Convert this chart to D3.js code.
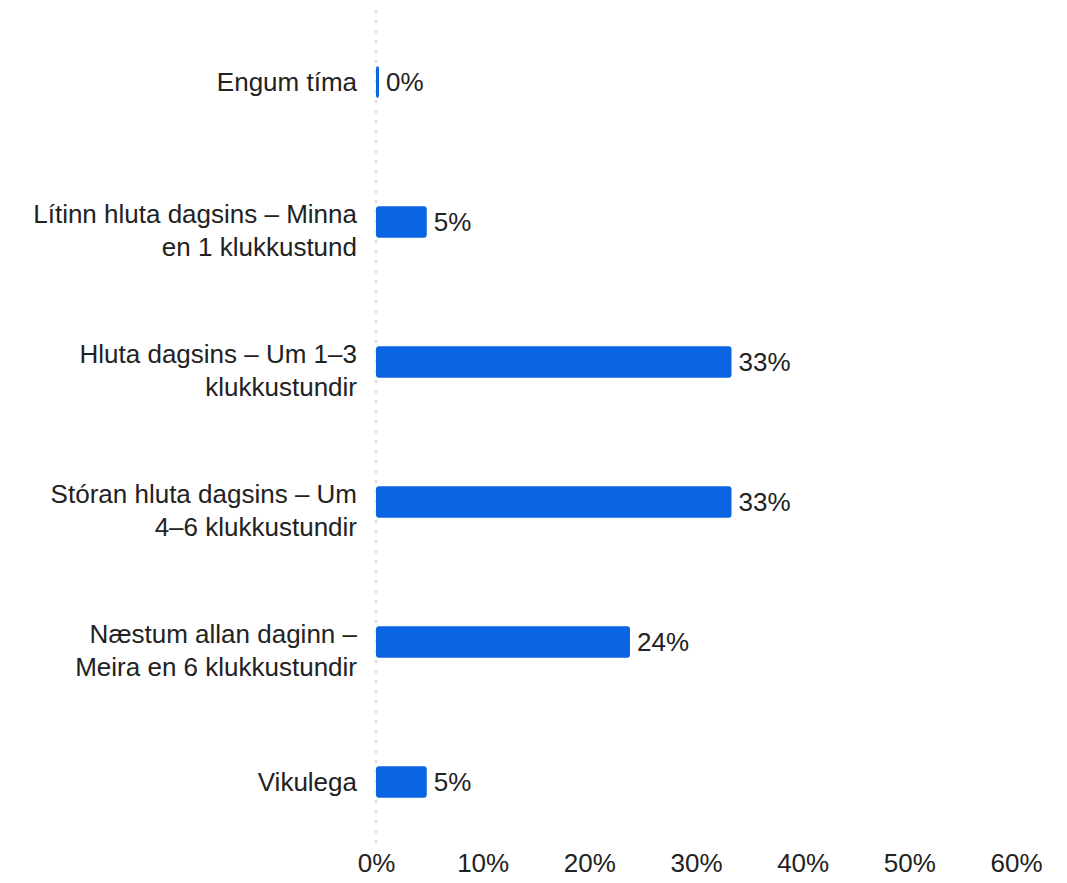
<!DOCTYPE html>
<meta charset="utf-8" />
<script src="https://d3js.org/d3.v7.min.js"></script>
<style>
  body { margin: 0; background: #fff; }
  text { font-family: "Liberation Sans", Arial, sans-serif; fill: #222; }
</style>
<body>
  <div id="my_dataviz"></div>
  <script>
    // categories, split into the lines shown on the chart
    const categories = [
      ["Engum tíma"],
      ["Lítinn hluta dagsins – Minna", "en 1 klukkustund"],
      ["Hluta dagsins – Um 1–3", "klukkustundir"],
      ["Stóran hluta dagsins – Um", "4–6 klukkustundir"],
      ["Næstum allan daginn –", "Meira en 6 klukkustundir"],
      ["Vikulega"],
    ];
    // share of answers, in percent
    const values = [0, 4.76, 33.33, 33.33, 23.81, 4.76];
    const ticks = [0, 10, 20, 30, 40, 50, 60];

    const width = 1067, height = 883;
    const data = categories.map((c, i) => ({ key: c.join(" "), lines: c, value: values[i] }));

    const svg = d3
      .select("#my_dataviz")
      .append("svg")
      .attr("width", width)
      .attr("height", height);

    const x = d3.scaleLinear().domain([0, 60]).range([376, 1016]);
    const y = d3
      .scaleBand()
      .domain(data.map((d) => d.key))
      .range([12, 852])
      .paddingInner(0.775)
      .paddingOuter(0.3875);

    // dotted baseline
    svg
      .append("line")
      .attr("x1", x(0))
      .attr("x2", x(0))
      .attr("y1", 10)
      .attr("y2", 850)
      .attr("stroke", "#e2e2e2")
      .attr("stroke-width", 3)
      .attr("stroke-dasharray", "3,7");

    // bottom axis labels
    const xAxis = svg
      .append("g")
      .attr("transform", "translate(0,872)")
      .call(d3.axisBottom(x).tickValues(ticks).tickSize(0).tickPadding(0).tickFormat((d) => d + "%"));
    xAxis.select(".domain").remove();
    xAxis
      .selectAll("text")
      .attr("dy", "0")
      .style("font-size", "26px")
      .style("font-family", '"Liberation Sans", Arial, sans-serif')
      .attr("fill", "#222");

    // bars
    svg
      .selectAll("rect.bar")
      .data(data)
      .enter()
      .append("rect")
      .attr("class", "bar")
      .attr("x", x(0))
      .attr("y", (d) => y(d.key))
      .attr("width", (d) => Math.max(3, x(d.value) - x(0)))
      .attr("height", y.bandwidth())
      .attr("rx", 3)
      .attr("fill", "#0b64e1");

    // value labels
    svg
      .selectAll("text.val")
      .data(data)
      .enter()
      .append("text")
      .attr("class", "val")
      .attr("x", (d) => Math.max(x(0) + 3, x(d.value)) + 7)
      .attr("y", (d) => y(d.key) + y.bandwidth() / 2)
      .attr("dy", "0.35em")
      .style("font-size", "26px")
      .text((d) => Math.round(d.value) + "%");

    // category labels
    const labels = svg
      .selectAll("text.cat")
      .data(data)
      .enter()
      .append("text")
      .attr("class", "cat")
      .attr("text-anchor", "end")
      .attr("x", 357)
      .attr("y", (d) => y(d.key) + y.bandwidth() / 2)
      .style("font-size", "26px");
    labels
      .selectAll("tspan")
      .data((d) => d.lines.map((l, i) => ({ l, i, n: d.lines.length })))
      .enter()
      .append("tspan")
      .attr("x", 357)
      .attr("dy", (t) => (t.i === 0 ? (t.n > 1 ? "0.04em" : "0.35em") : "1.27em"))
      .text((t) => t.l);
  </script>
</body>
